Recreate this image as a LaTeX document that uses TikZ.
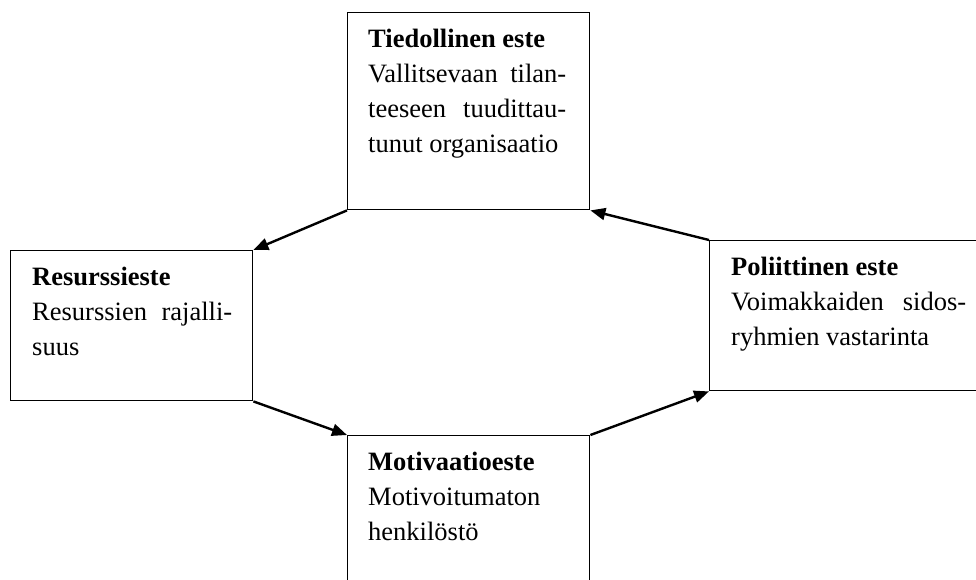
\documentclass[tikz,border=0pt]{standalone}
\usepackage{fontspec}
\setmainfont{Liberation Serif}
\usetikzlibrary{arrows.meta,calc}
\begin{document}
\begin{tikzpicture}[x=1pt,y=-1pt,
  box/.style={draw=black,line width=1.4pt,rectangle,inner sep=0pt,anchor=north west},
  txt/.style={inner sep=0pt,anchor=north west,align=left,font=\fontsize{26.5pt}{35pt}\selectfont},
  arr/.style={line width=2.4pt,-{Triangle[length=15pt,width=12pt]}}]
\useasboundingbox (0,0) rectangle (976,580);
\fill[white] (0,0) rectangle (976,580);
\clip (0,0) rectangle (976,580);
% boxes
\node[box,minimum width=242pt,minimum height=197pt] (tied) at (347,12) {};
\node[box,minimum width=242pt,minimum height=150pt] (res) at (10,250) {};
\node[box,minimum width=276pt,minimum height=150pt] (pol) at (709,240) {};
\node[box,minimum width=242pt,minimum height=170pt] (mot) at (347,435) {};
% texts
\node[txt] (tiedt) at ($(tied.north west)+(21,17)$) {\textbf{Tiedollinen este}\\
  \makebox[198pt][s]{Vallitsevaan tilan-}\\
  \makebox[198pt][s]{teeseen tuudittau-}\\
  tunut organisaatio};
\node[txt] (rest) at ($(res.north west)+(22,17)$) {\textbf{Resurssieste}\\
  \makebox[200pt][s]{Resurssien rajalli-}\\
  suus};
\node[txt] (polt) at ($(pol.north west)+(22,17)$) {\textbf{Poliittinen este}\\
  \makebox[235pt][s]{Voimakkaiden sidos-}\\
  ryhmien vastarinta};
\node[txt] (mott) at ($(mot.north west)+(21,17)$) {\textbf{Motivaatioeste}\\
  Motivoitumaton\\
  henkilöstö};
% arrows
\draw[arr] (tied.south west) -- (res.north east);
\draw[arr] (res.south east) -- (mot.north west);
\draw[arr] (mot.north east) -- (pol.south west);
\draw[arr] (pol.north west) -- (tied.south east);
\end{tikzpicture}
\end{document}
